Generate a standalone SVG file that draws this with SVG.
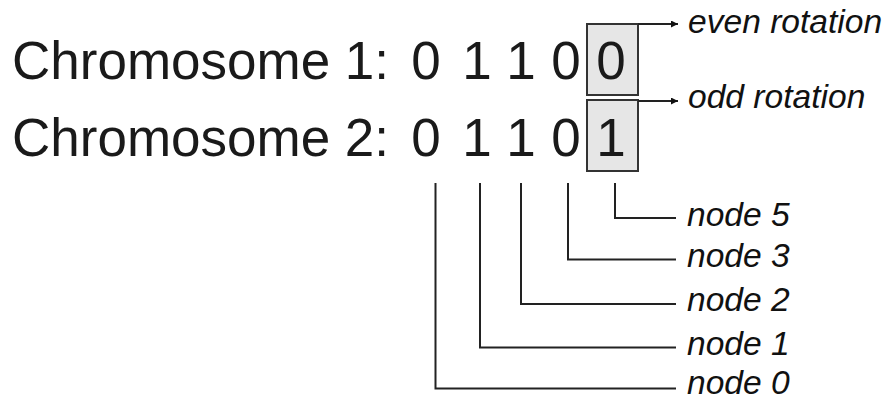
<svg xmlns="http://www.w3.org/2000/svg" width="886" height="403" viewBox="0 0 886 403">
<style>
.big{font-family:"Liberation Sans",Arial,sans-serif;font-size:53px;fill:#1a1a1a}
.dig{font-family:"Liberation Sans",Arial,sans-serif;font-size:53px;fill:#1a1a1a;text-anchor:middle}
.lbl{font-family:"Liberation Sans",Arial,sans-serif;font-size:33.6px;font-style:italic;fill:#111}
.box{fill:#e6e6e6;stroke:#333;stroke-width:2}
.ln{fill:none;stroke:#222;stroke-width:2}
</style>
<defs>
<marker id="ah" viewBox="0 0 10 10" refX="10" refY="5" markerWidth="7" markerHeight="7" markerUnits="userSpaceOnUse" orient="auto">
<path d="M0,0 L10,5 L0,10 z" fill="#111"/>
</marker>
</defs>
<rect width="886" height="403" fill="#fff"/>
<g id="box-even"><rect class="box" x="587" y="24" width="51" height="71"/></g>
<g id="box-odd"><rect class="box" x="587" y="100" width="51" height="71"/></g>
<g id="chromosome1">
<text class="big" x="12" y="79">Chromosome 1:</text>
<text class="dig" x="426" y="79">0</text>
<text class="dig" x="477" y="79">1</text>
<text class="dig" x="521" y="79">1</text>
<text class="dig" x="566" y="79">0</text>
<text class="dig" x="611" y="79">0</text>
</g>
<g id="chromosome2">
<text class="big" x="12" y="156">Chromosome 2:</text>
<text class="dig" x="426" y="156">0</text>
<text class="dig" x="477" y="156">1</text>
<text class="dig" x="521" y="156">1</text>
<text class="dig" x="566" y="156">0</text>
<text class="dig" x="611" y="156">1</text>
</g>
<g id="connectors">
<line class="ln" x1="638" y1="24" x2="678" y2="24" marker-end="url(#ah)"/>
<line class="ln" x1="638" y1="101" x2="678" y2="101" marker-end="url(#ah)"/>
<polyline class="ln" points="615,183 615,218 676,218"/>
<polyline class="ln" points="568,183 568,259.5 676,259.5"/>
<polyline class="ln" points="521,183 521,304 676,304"/>
<polyline class="ln" points="480,183 480,347.5 676,347.5"/>
<polyline class="ln" points="435.5,183 435.5,388.5 676,388.5"/>
</g>
<g id="label-even"><text class="lbl" x="688" y="33">even rotation</text></g>
<g id="label-odd"><text class="lbl" x="688" y="108">odd rotation</text></g>
<g id="node5"><text class="lbl" x="687" y="226">node 5</text></g>
<g id="node3"><text class="lbl" x="687" y="267">node 3</text></g>
<g id="node2"><text class="lbl" x="687" y="311">node 2</text></g>
<g id="node1"><text class="lbl" x="687" y="355">node 1</text></g>
<g id="node0"><text class="lbl" x="687" y="394">node 0</text></g>
</svg>
